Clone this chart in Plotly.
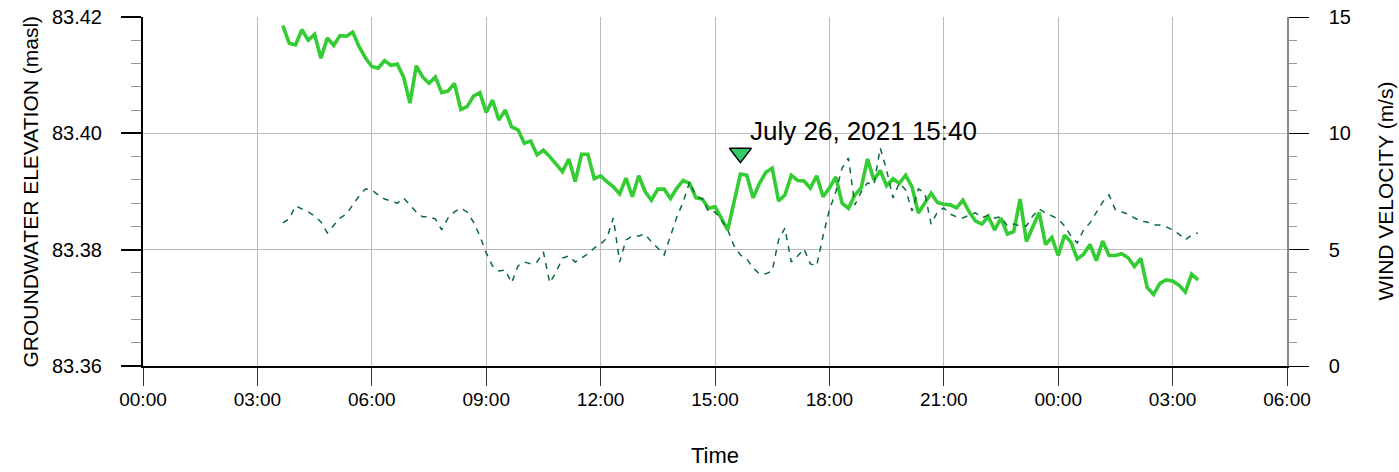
import pandas as pd
import plotly.graph_objects as go

# ---- data (10-minute readings, 2021-07-26 03:40 -> 2021-07-27 03:40) ----
start_time = "2021-07-26 03:40"
interval = "10min"

groundwater_masl = [
    83.4185, 83.4155, 83.4152, 83.4178, 83.4160, 83.4170, 83.4129, 83.4164, 83.4151, 83.4168,
    83.4167, 83.4174, 83.4149, 83.4130, 83.4115, 83.4112, 83.4125, 83.4117, 83.4119, 83.4097,
    83.4052, 83.4116, 83.4097, 83.4086, 83.4097, 83.4070, 83.4073, 83.4086, 83.4041, 83.4046,
    83.4064, 83.4070, 83.4036, 83.4057, 83.4023, 83.4040, 83.4011, 83.4006, 83.3983, 83.3987,
    83.3963, 83.3971, 83.3960, 83.3947, 83.3934, 83.3956, 83.3917, 83.3964, 83.3964, 83.3922,
    83.3927, 83.3917, 83.3908, 83.3896, 83.3923, 83.3891, 83.3927, 83.3900, 83.3885, 83.3904,
    83.3904, 83.3888, 83.3906, 83.3919, 83.3914, 83.3889, 83.3887, 83.3871, 83.3874, 83.3854,
    83.3834, 83.3882, 83.3930, 83.3928, 83.3889, 83.3914, 83.3933, 83.3940, 83.3884, 83.3894,
    83.3928, 83.3919, 83.3918, 83.3906, 83.3927, 83.3891, 83.3906, 83.3925, 83.3880, 83.3871,
    83.3894, 83.3906, 83.3956, 83.3920, 83.3936, 83.3910, 83.3922, 83.3914, 83.3928, 83.3908,
    83.3863, 83.3880, 83.3897, 83.3881, 83.3878, 83.3877, 83.3872, 83.3885, 83.3865, 83.3849,
    83.3844, 83.3857, 83.3834, 83.3854, 83.3827, 83.3831, 83.3887, 83.3814, 83.3840, 83.3864,
    83.3809, 83.3821, 83.3790, 83.3825, 83.3813, 83.3784, 83.3792, 83.3809, 83.3781, 83.3815,
    83.3790, 83.3790, 83.3793, 83.3786, 83.3771, 83.3785, 83.3735, 83.3723, 83.3742, 83.3748,
    83.3746, 83.3739, 83.3727, 83.3758, 83.3748,
]

wind_ms = [
    6.15, 6.32, 6.88, 6.75, 6.62, 6.45, 6.19, 5.72, 6.02, 6.36,
    6.53, 6.92, 7.31, 7.61, 7.57, 7.35, 7.18, 7.09, 7.00, 7.22,
    6.92, 6.62, 6.41, 6.41, 6.32, 5.85, 6.36, 6.62, 6.79, 6.62,
    6.19, 5.59, 4.86, 4.30, 4.08, 4.13, 3.57, 4.30, 4.47, 4.39,
    4.47, 4.90, 3.57, 4.04, 4.64, 4.73, 4.47, 4.64, 4.82, 5.07,
    5.24, 5.50, 6.36, 4.47, 5.42, 5.59, 5.59, 5.67, 5.33, 5.07,
    4.77, 5.59, 6.41, 7.05, 7.91, 7.31, 7.18, 6.62, 6.62, 6.28,
    5.85, 5.16, 4.77, 4.60, 4.21, 3.96, 3.96, 4.08, 5.42, 5.93,
    4.47, 4.73, 5.03, 4.39, 4.30, 5.59, 6.71, 7.48, 8.51, 8.94,
    6.92, 7.48, 7.87, 7.78, 9.37, 8.42, 7.22, 7.87, 7.57, 6.66,
    7.61, 7.44, 6.10, 6.62, 6.79, 6.53, 6.41, 6.36, 6.49, 6.58,
    6.36, 6.49, 6.36, 6.41, 6.02, 6.10, 6.02, 6.02, 6.45, 6.75,
    6.58, 6.45, 6.32, 6.02, 5.59, 5.29, 5.85, 6.15, 6.62, 7.05,
    7.35, 6.71, 6.62, 6.53, 6.36, 6.23, 6.19, 6.06, 6.06, 5.98,
    5.85, 5.67, 5.42, 5.63, 5.72,
]

marker_time = "2021-07-26 15:40"
marker_level = 83.3966
marker_label = "July 26, 2021 15:40"

x_range = ["2021-07-26 00:00", "2021-07-27 06:00"]
left_range = [83.36, 83.42]
right_range = [0, 15]

times = pd.date_range(start_time, periods=len(groundwater_masl), freq=interval)

W, H = 1399, 472
L, R, T, B = 143, 112, 17, 106
pw, ph = W - L - R, H - T - B

fig = go.Figure()
fig.add_trace(go.Scatter(
    x=times, y=groundwater_masl, mode="lines", yaxis="y",
    line=dict(color="#33CC33", width=3.6), showlegend=False))
fig.add_trace(go.Scatter(
    x=times, y=wind_ms, mode="lines", yaxis="y2",
    line=dict(color="#0B6B3A", width=1.5, dash="6px,6px"), showlegend=False))
fig.add_trace(go.Scatter(
    x=[marker_time], y=[marker_level], mode="markers", yaxis="y",
    marker=dict(symbol="triangle-down", size=19, color="#33CC66",
                line=dict(color="black", width=1.5)), showlegend=False))

fig.add_annotation(x=marker_time, y=marker_level, xref="x", yref="y",
                   text=marker_label, showarrow=False, xanchor="left", yanchor="middle",
                   xshift=8, yshift=22, font=dict(family="Liberation Sans, Arial", size=26, color="black"))

tick_font = dict(family="Liberation Sans, Arial", size=20, color="black")
fig.update_layout(
    width=W, height=H, margin=dict(l=L, r=R, t=T, b=B, pad=0, autoexpand=False),
    paper_bgcolor="white", plot_bgcolor="white",
    xaxis=dict(
        type="date", range=x_range, dtick=3 * 3600 * 1000, tick0="2021-07-26 00:00",
        tickformat="%H:%M", showgrid=True, gridcolor="#BBBBBB", gridwidth=1,
        showline=True, linecolor="black", linewidth=2, automargin=False,
        ticks="outside", ticklen=18, tickcolor="#333333", tickwidth=1,
        ticklabelstandoff=-3,
        tickfont=dict(family="Liberation Sans, Arial", size=19, color="black"),
        zeroline=False,
    ),
    yaxis=dict(
        range=left_range, dtick=0.02, tickformat=".2f", automargin=False,
        showgrid=True, gridcolor="#BBBBBB", gridwidth=1,
        showline=True, linecolor="black", linewidth=2,
        ticks="outside", ticklen=20, tickcolor="black", tickwidth=2,
        ticklabelstandoff=15,
        minor=dict(dtick=0.004, ticks="outside", ticklen=10, tickcolor="#999999", tickwidth=1, showgrid=False),
        tickfont=tick_font, zeroline=False,
    ),
    yaxis2=dict(
        range=right_range, dtick=5, overlaying="y", side="right", automargin=False,
        showgrid=False, showline=True, linecolor="#888888", linewidth=1.5,
        ticks="outside", ticklen=20, tickcolor="black", tickwidth=1,
        ticklabelstandoff=16,
        minor=dict(dtick=1, ticks="outside", ticklen=8, tickcolor="#999999", tickwidth=1, showgrid=False),
        tickfont=tick_font, zeroline=False,
    ),
)

fig.add_annotation(text="GROUNDWATER ELEVATION (masl)", xref="paper", yref="paper",
                   x=(30 - L) / pw, y=0.5, textangle=-90, showarrow=False,
                   xanchor="center", yanchor="middle",
                   font=dict(family="Liberation Sans, Arial", size=21, color="black"))
fig.add_annotation(text="WIND VELOCITY (m/s)", xref="paper", yref="paper",
                   x=(1385 - L) / pw, y=0.5, textangle=-90, showarrow=False,
                   xanchor="center", yanchor="middle",
                   font=dict(family="Liberation Sans, Arial", size=21, color="black"))
fig.add_annotation(text="Time", xref="paper", yref="paper",
                   x=0.5, y=-(455 - (T + ph)) / ph, showarrow=False,
                   xanchor="center", yanchor="middle",
                   font=dict(family="Liberation Sans, Arial", size=22, color="black"))

fig.write_html("out.html", config={"displayModeBar": False},
               post_script="document.body.style.margin='0';document.body.style.padding='0';")
